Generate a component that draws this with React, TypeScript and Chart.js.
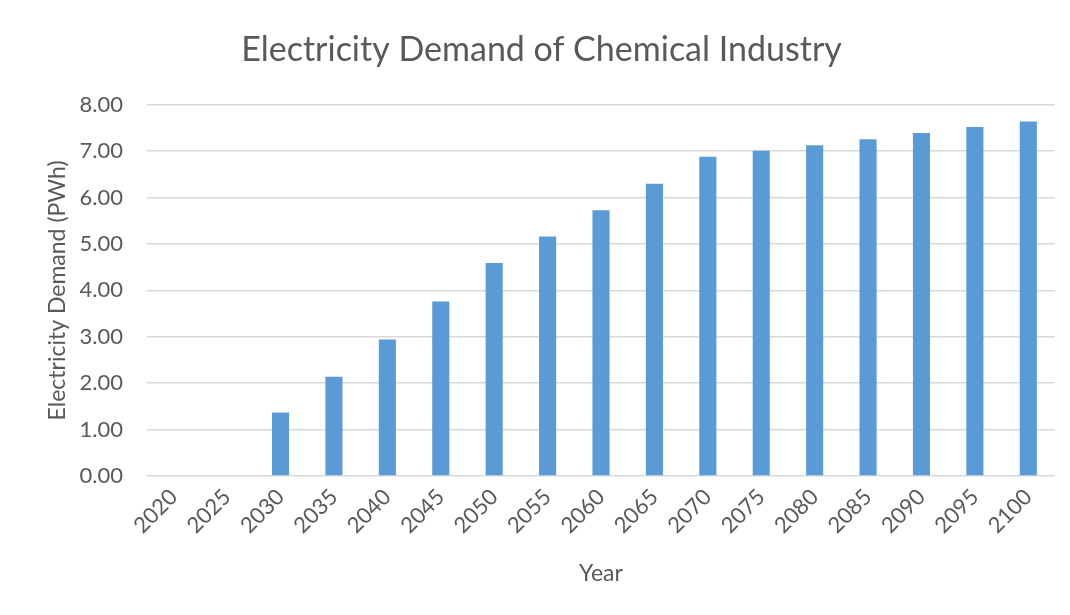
import React, { useEffect, useRef } from "react";
import { Chart, registerables } from "chart.js";

Chart.register(...registerables);

const years = ["2020", "2025", "2030", "2035", "2040", "2045", "2050", "2055", "2060", "2065", "2070", "2075", "2080", "2085", "2090", "2095", "2100"];
const demand = [0, 0, 1.37, 2.14, 2.94, 3.76, 4.59, 5.16, 5.73, 6.30, 6.88, 7.01, 7.13, 7.26, 7.39, 7.52, 7.64];

const TITLE = "Electricity Demand of Chemical Industry";
const Y_TITLE = "Electricity Demand (PWh)";
const X_TITLE = "Year";

const FONT = "Lato, 'Open Sans', sans-serif";
const TEXT = "#595959";
const GRID = "#d9d9d9";

export default function App() {
  const ref = useRef<HTMLCanvasElement | null>(null);
  useEffect(() => {
    if (!ref.current) return;
    const chart = new Chart(ref.current, {
      type: "bar",
      data: {
        labels: years,
        datasets: [
          {
            label: "Demand",
            data: demand,
            backgroundColor: "#5b9bd5",
            borderWidth: 0,
            barPercentage: 0.32,
            categoryPercentage: 1,
          },
        ],
      },
      options: {
        animation: false,
        responsive: false,
        maintainAspectRatio: false,
        layout: { padding: { left: 20, right: 15, top: 23, bottom: 28 } },
        plugins: {
          legend: { display: false },
          tooltip: { enabled: false },
          title: {
            display: true,
            text: TITLE,
            color: TEXT,
            font: { family: FONT, size: 34, weight: "normal" },
            padding: { top: 0, bottom: 34 },
          },
        },
        scales: {
          x: {
            grid: { display: false, drawTicks: false },
            border: { display: false },
            ticks: {
              color: TEXT,
              font: { family: FONT, size: 22 },
              minRotation: 45,
              maxRotation: 45,
              autoSkip: false,
              padding: 8,
            },
            title: {
              display: true,
              text: X_TITLE,
              color: TEXT,
              font: { family: FONT, size: 23 },
              padding: { top: 0, bottom: 0 },
            },
            afterFit: (scale: any) => {
              scale.height = 111;
            },
          },
          y: {
            min: 0,
            max: 8,
            grid: { color: GRID, lineWidth: 1.5, drawTicks: false },
            border: { display: false },
            ticks: {
              stepSize: 1,
              color: TEXT,
              font: { family: FONT, size: 22 },
              padding: 24,
              callback: (v: any) => Number(v).toFixed(2),
            },
            title: {
              display: true,
              text: Y_TITLE,
              color: TEXT,
              font: { family: FONT, size: 23 },
              padding: { top: 16, bottom: 0 },
            },
            afterFit: (scale: any) => {
              scale.width = 119;
            },
          },
        },
      },
    });
    return () => chart.destroy();
  }, []);
  return (
    <div
      style={{
        width: 1080,
        height: 620,
        borderTop: "1px solid #d9d9d9",
        borderLeft: "1px solid #d9d9d9",
        marginLeft: -1,
        marginTop: -2,
        background: "#fff",
      }}
    >
      <canvas ref={ref} width={1062} height={608} style={{ display: "block" }} />
    </div>
  );
}
